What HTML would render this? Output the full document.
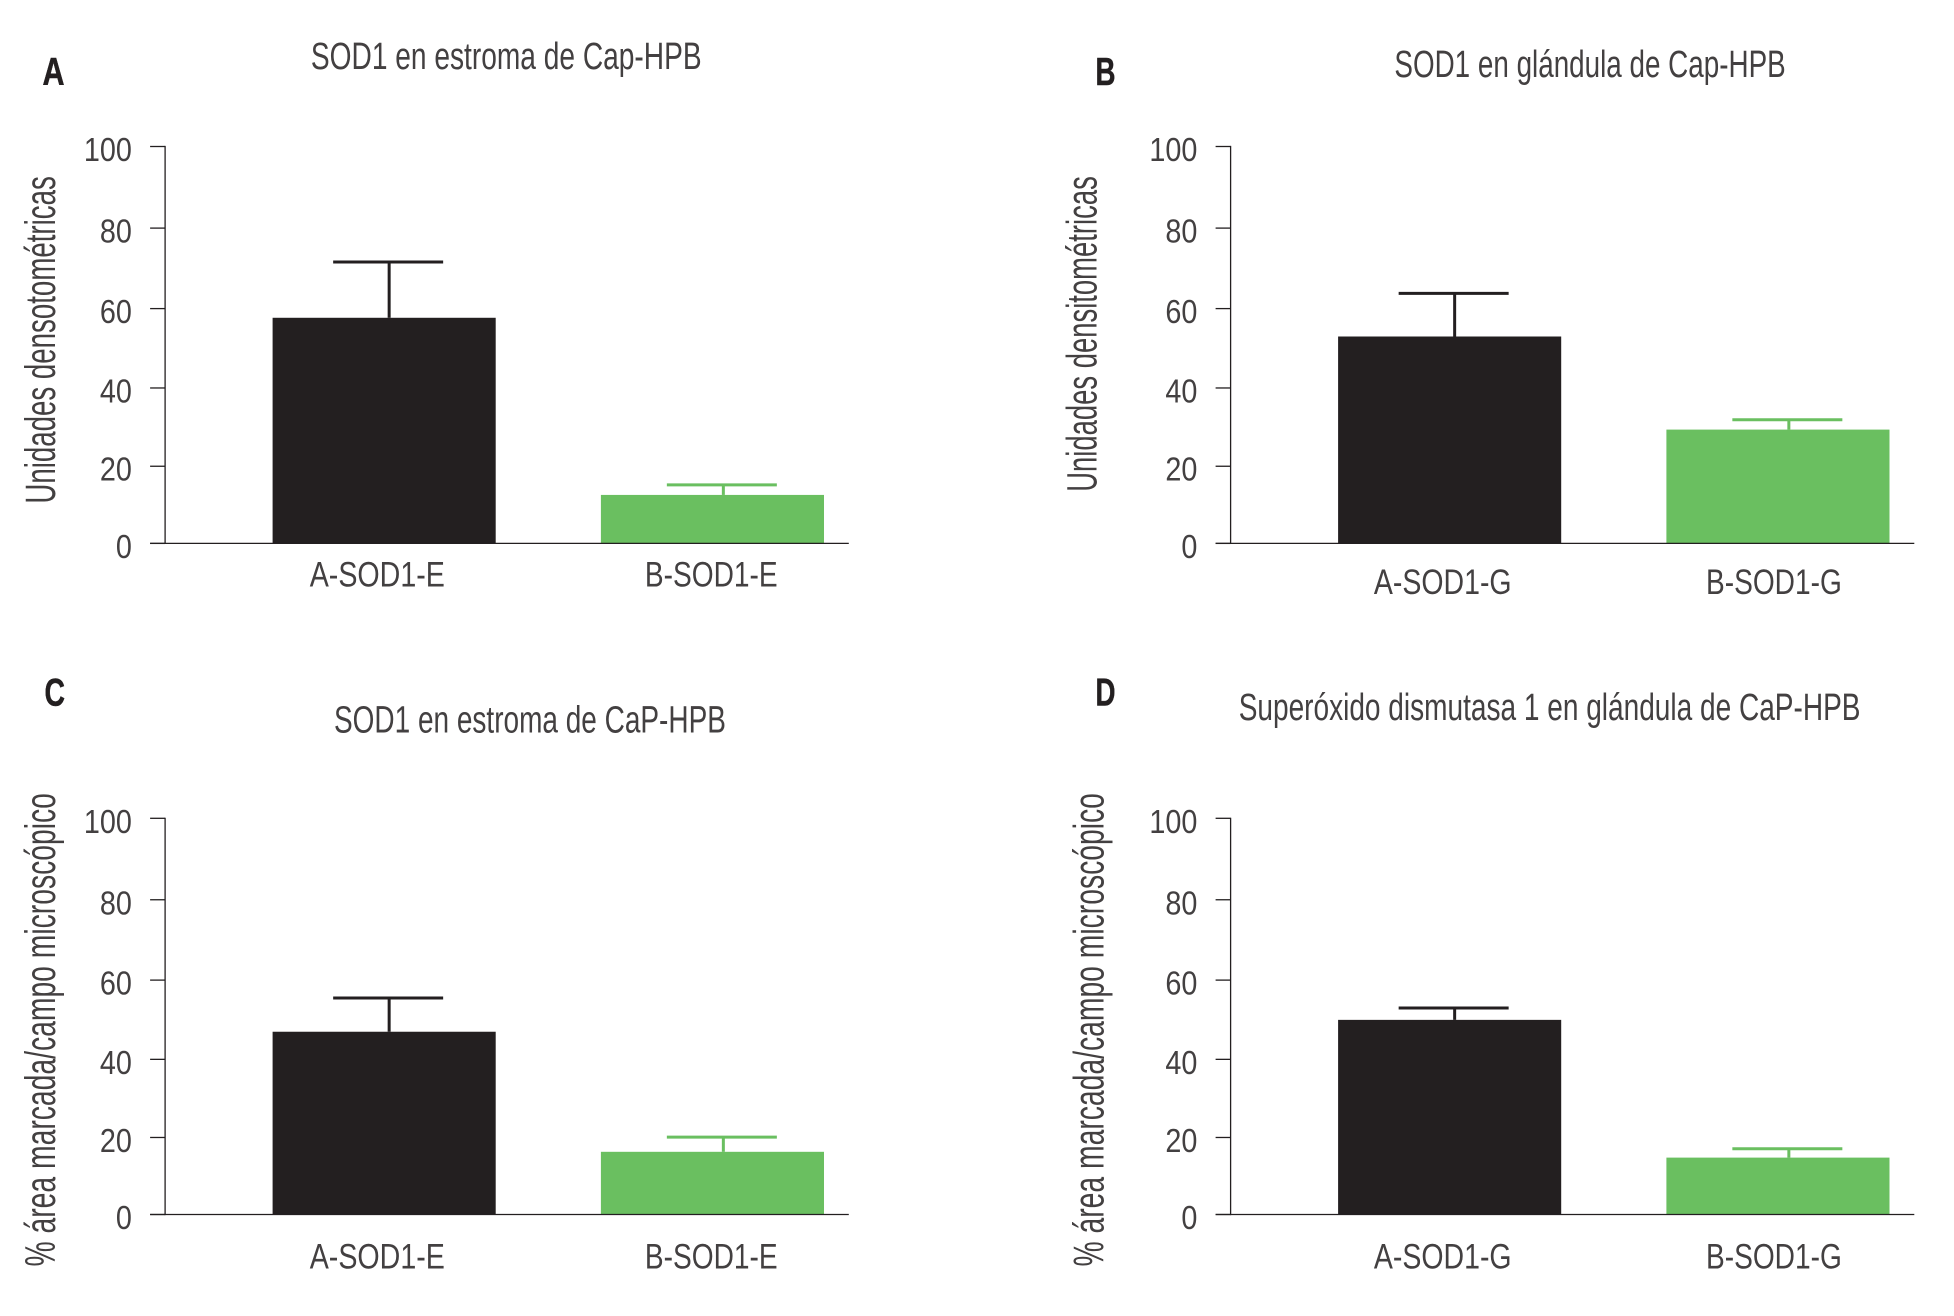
<!DOCTYPE html>
<html lang="es">
<head>
<meta charset="utf-8">
<title>SOD1 en Cap-HPB</title>
<style>
  html,body{margin:0;padding:0;background:#fff;width:1954px;height:1316px;overflow:hidden}
  svg{display:block}
  text{font-family:"Liberation Sans",sans-serif;fill:#434041}
  .letter{font-weight:700;fill:#231f20;stroke:#231f20;stroke-width:.5}
</style>
</head>
<body>
<svg id="figure" xmlns="http://www.w3.org/2000/svg" width="1954" height="1316" viewBox="0 0 1954 1316">
  <rect width="1954" height="1316" fill="#ffffff"/>

  <text class="letter" x="42.5" y="85.2" font-size="38.5" textLength="22" lengthAdjust="spacingAndGlyphs">A</text>
  <text class="letter" x="1095.5" y="85.2" font-size="38.5" textLength="20" lengthAdjust="spacingAndGlyphs">B</text>
  <text class="letter" x="44.5" y="705.4" font-size="38.5" textLength="20.5" lengthAdjust="spacingAndGlyphs">C</text>
  <text class="letter" x="1095.5" y="705.4" font-size="38.5" textLength="20" lengthAdjust="spacingAndGlyphs">D</text>

  <text x="310.9" y="69.2" font-size="38" textLength="390.7" lengthAdjust="spacingAndGlyphs">SOD1 en estroma de Cap-HPB</text>
  <text x="1394.4" y="76.8" font-size="38" textLength="391.3" lengthAdjust="spacingAndGlyphs">SOD1 en glándula de Cap-HPB</text>
  <text x="334" y="732.3" font-size="38" textLength="391.9" lengthAdjust="spacingAndGlyphs">SOD1 en estroma de CaP-HPB</text>
  <text x="1238.7" y="720.1" font-size="38" textLength="621.8" lengthAdjust="spacingAndGlyphs">Superóxido dismutasa 1 en glándula de CaP-HPB</text>

  <text transform="translate(54.8 503.6) rotate(-90)" font-size="43" textLength="327.4" lengthAdjust="spacingAndGlyphs">Unidades densotométricas</text>
  <text transform="translate(1096.6 491.8) rotate(-90)" font-size="43" textLength="315.6" lengthAdjust="spacingAndGlyphs">Unidades densitométricas</text>
  <text transform="translate(54.8 1266.5) rotate(-90)" font-size="43" textLength="473.4" lengthAdjust="spacingAndGlyphs">% área marcada/campo microscópico</text>
  <text transform="translate(1103.5 1266.5) rotate(-90)" font-size="43" textLength="473.4" lengthAdjust="spacingAndGlyphs">% área marcada/campo microscópico</text>
</svg>

<script>
// Chart data
const yTickLabels = [0, 20, 40, 60, 80, 100];
const categoriesA = ['A-SOD1-E', 'B-SOD1-E'];
const categoriesB = ['A-SOD1-G', 'B-SOD1-G'];
const categoriesC = ['A-SOD1-E', 'B-SOD1-E'];
const categoriesD = ['A-SOD1-G', 'B-SOD1-G'];
const meansA = [57.7, 12.6];
const meansB = [53.0, 29.4];
const meansC = [47.0, 16.3];
const meansD = [50.0, 14.8];
const errorTopsA = [71.6, 15.2];
const errorTopsB = [63.8, 31.9];
const errorTopsC = [55.5, 20.1];
const errorTopsD = [53.0, 17.1];

// Layout of each panel
const leftLabels = {starts: [309.7, 644.9], widths: [135.2, 132.7]};
const rightLabels = {starts: [1373.9, 1706], widths: [137.7, 135.8]};
const panels = [
  {id:'a', categories:categoriesA, means:meansA, errorTops:errorTopsA, axisX:165.1, rightX:848.8, topY:146.5, baseY:543.4, labelY:586.7, labels:leftLabels},
  {id:'b', categories:categoriesB, means:meansB, errorTops:errorTopsB, axisX:1230.6, rightX:1914.3, topY:146.5, baseY:543.4, labelY:593.8, labels:rightLabels},
  {id:'c', categories:categoriesC, means:meansC, errorTops:errorTopsC, axisX:165.1, rightX:848.8, topY:818.3, baseY:1214.5, labelY:1268.6, labels:leftLabels},
  {id:'d', categories:categoriesD, means:meansD, errorTops:errorTopsD, axisX:1230.6, rightX:1914.3, topY:818.3, baseY:1214.5, labelY:1268.6, labels:rightLabels}
];
const barColors = ['#231f20', '#6abf60'];
const NS = 'http://www.w3.org/2000/svg';
const figure = document.getElementById('figure');

function make(parent, tag, attrs) {
  const node = document.createElementNS(NS, tag);
  for (const key in attrs) node.setAttribute(key, attrs[key]);
  parent.appendChild(node);
  return node;
}

// Vertical axis function; the small bow term follows the slight warp of the printed scale.
function yScale(panel, value) {
  const t = value / 100;
  return panel.baseY - (panel.baseY - panel.topY) * (t - 0.035 * t * (1 - t));
}
// Horizontal band axis functions
function bandLeft(panel, index) {
  return panel.axisX + 107.5 + index * 328.3;
}
const bandWidth = 223.1;

panels.forEach(function (panel) {
  const group = make(figure, 'g', {});
  
  

  panel.means.forEach(function (mean, i) {
    const left = bandLeft(panel, i);
    const top = yScale(panel, mean);
    const errTop = yScale(panel, panel.errorTops[i]);
    const color = barColors[i];
    const stemX = left + bandWidth / 2 + (i === 0 ? 5 : 10.9);
    const capCenter = left + bandWidth / 2 + (i === 0 ? 4 : 9.4);

    const stem = make(group, 'line', {x1: stemX, x2: stemX, y1: errTop, y2: top, stroke: color, 'stroke-width': 3});
    
    

    const cap = make(group, 'line', {x1: capCenter - 55, x2: capCenter + 55, y1: errTop, y2: errTop, stroke: color, 'stroke-width': 3});
    
    

    const bar = make(group, 'rect', {x: left, y: top, width: bandWidth, height: panel.baseY - top, fill: color});
    
    

    const label = make(group, 'text', {
      x: panel.labels.starts[i],
      y: panel.labelY, 'font-size': 35.5,
      textLength: panel.labels.widths[i], lengthAdjust: 'spacingAndGlyphs'
    });
    label.textContent = panel.categories[i];
    
    
  });

  const yAxis = make(group, 'line', {x1: panel.axisX, x2: panel.axisX, y1: panel.topY - 0.6, y2: panel.baseY + 0.6, stroke: '#231f20', 'stroke-width': 1.3});
  
  

  const xAxis = make(group, 'line', {x1: panel.axisX - 15, x2: panel.rightX, y1: panel.baseY, y2: panel.baseY, stroke: '#231f20', 'stroke-width': 1.3});
  
  

  yTickLabels.forEach(function (tick) {
    const y = yScale(panel, tick);
    const mark = make(group, 'line', {x1: panel.axisX - 15, x2: panel.axisX, y1: y, y2: y, stroke: '#231f20', 'stroke-width': 1.3});
    
    

    const text = make(group, 'text', {
      x: panel.axisX - 33.2, y: y + 14.5, 'font-size': 33, 'text-anchor': 'end',
      textLength: String(tick).length * 16, lengthAdjust: 'spacingAndGlyphs'
    });
    text.textContent = String(tick);
    
    
  });
});
</script>
</body>
</html>
